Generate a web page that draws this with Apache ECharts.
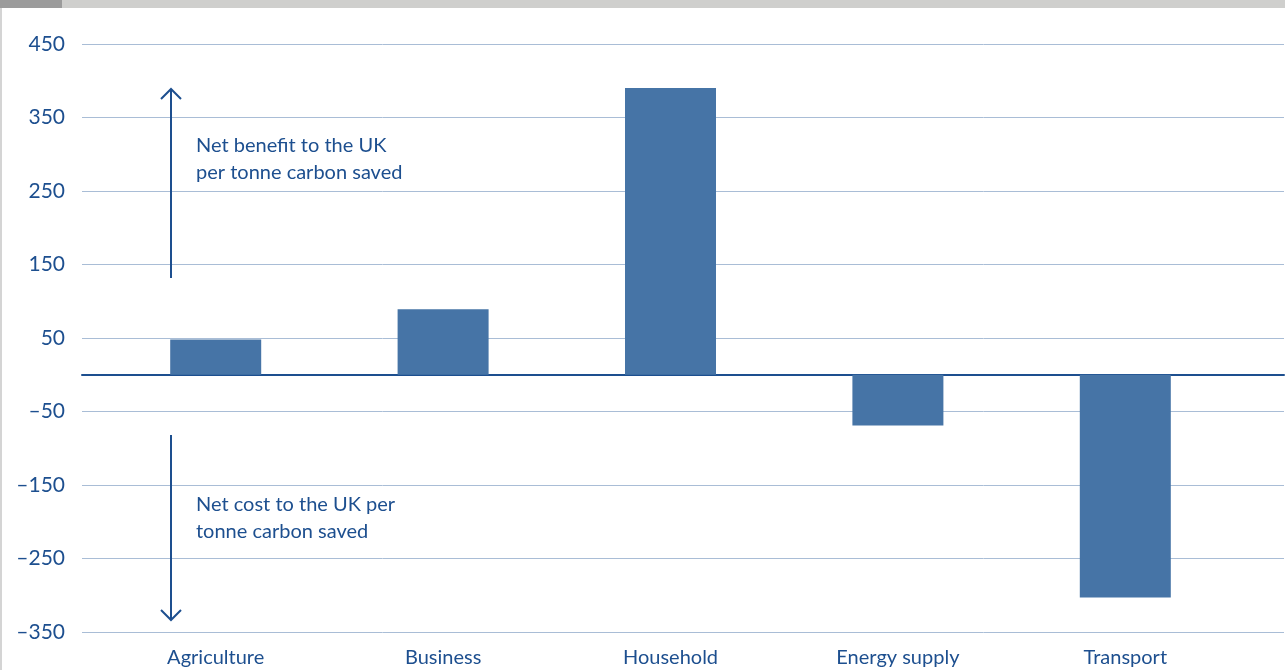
<!DOCTYPE html>
<html>
<head>
<meta charset="utf-8">
<script src="https://cdn.jsdelivr.net/npm/echarts@6/dist/echarts.min.js"></script>
<style>
html,body{margin:0;padding:0;background:#fff;}
#chart{width:1285px;height:670px;}
</style>
</head>
<body>
<div id="chart"></div>
<script>
const categories = ['Agriculture', 'Business', 'Household', 'Energy supply', 'Transport'];
const values = [48, 89, 390, -69, -303];
const yMin = -350, yMax = 450, yStep = 100;
const noteBenefit = ['Net benefit to the UK', 'per tonne carbon saved'];
const noteCost = ['Net cost to the UK per', 'tonne carbon saved'];

const textColor = '#1d4f8f';
const barColor = '#4674a6';
const gridColor = '#a9bdd6';
const font = 'Lato';

const chart = echarts.init(document.getElementById('chart'));
const fmt = v => v < 0 ? '\u2013' + Math.abs(v) : String(v);

chart.setOption({
  animation: false,
  grid: [
    {left: 82, right: 1, top: 44, bottom: 38},
    {left: 102, right: 46, top: 44, bottom: 38}
  ],
  xAxis: [
    {gridIndex: 0, type: 'value', min: 0, max: 1, axisLabel: {show: false}, axisTick: {show: false},
     splitLine: {show: false}, axisLine: {show: true, onZero: true, lineStyle: {color: textColor, width: 2}}},
    {gridIndex: 1, type: 'category', data: categories, position: 'bottom',
     axisLine: {show: false, onZero: false}, axisTick: {show: false},
     axisLabel: {color: textColor, fontFamily: font, fontSize: 20, margin: 16}}
  ],
  yAxis: [
    {gridIndex: 0, type: 'value', min: yMin, max: yMax, interval: yStep,
     axisLine: {show: false}, axisTick: {show: false},
     axisLabel: {color: textColor, fontFamily: font, fontSize: 21, margin: 17, formatter: fmt},
     splitLine: {show: true, lineStyle: {color: gridColor, width: 1}}},
    {gridIndex: 1, type: 'value', min: yMin, max: yMax, interval: yStep, show: false}
  ],
  series: [
    {type: 'bar', xAxisIndex: 1, yAxisIndex: 1, data: values, barWidth: 91,
     itemStyle: {color: barColor}, z: 1}
  ],
  graphic: [
    {type: 'rect', shape: {x: 0, y: 0, width: 1285, height: 8}, style: {fill: '#cfcfcd'}, silent: true},
    {type: 'rect', shape: {x: 0, y: 0, width: 62, height: 8}, style: {fill: '#9b9b9b'}, silent: true},
    {type: 'rect', shape: {x: 0, y: 8, width: 2, height: 662}, style: {fill: '#d4d4d4'}, silent: true},
    // up arrow
    {type: 'line', shape: {x1: 171, y1: 278, x2: 171, y2: 89}, style: {stroke: textColor, lineWidth: 2}, z: 10},
    {type: 'polyline', shape: {points: [[161, 99], [171, 89], [181, 99]]}, style: {stroke: textColor, lineWidth: 2, fill: null}, z: 10},
    // down arrow
    {type: 'line', shape: {x1: 171, y1: 435, x2: 171, y2: 620}, style: {stroke: textColor, lineWidth: 2}, z: 10},
    {type: 'polyline', shape: {points: [[161, 610], [171, 620], [181, 610]]}, style: {stroke: textColor, lineWidth: 2, fill: null}, z: 10},
    {type: 'text', x: 196, y: 159.5, style: {text: noteBenefit.join('\n'), fill: textColor, font: '20px ' + font, lineHeight: 27, verticalAlign: 'middle'}, z: 10},
    {type: 'text', x: 196, y: 518.5, style: {text: noteCost.join('\n'), fill: textColor, font: '20px ' + font, lineHeight: 27, verticalAlign: 'middle'}, z: 10}
  ]
});
</script>
</body>
</html>
